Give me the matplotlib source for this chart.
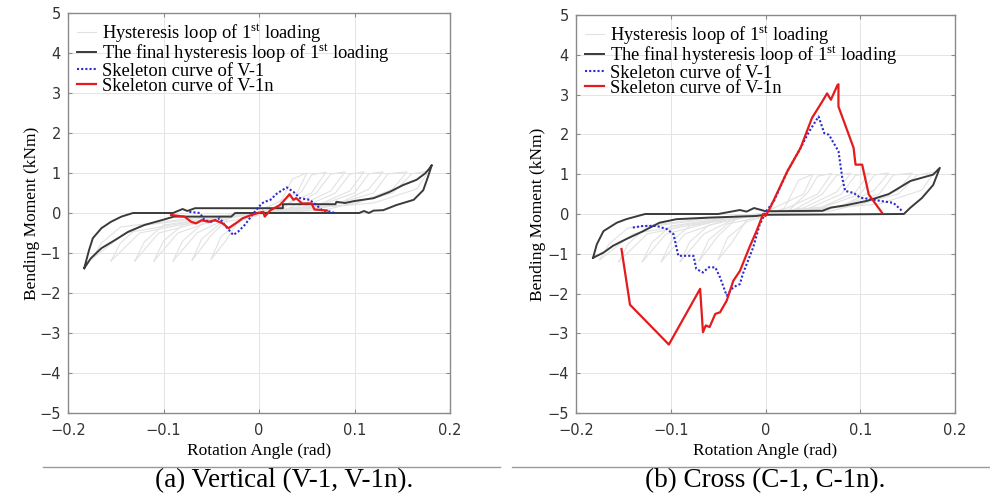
import numpy as np
import matplotlib
matplotlib.use("Agg")
import matplotlib.pyplot as plt
from matplotlib.lines import Line2D

# =====================================================
# DATA
# =====================================================

# light grey hysteresis loops of the 1st loading (same in both panels)
GREY_X = [
    [-0.05, -0.04, -0.02, 0.0, 0.02, 0.035, 0.05, 0.04, 0.0, -0.02, -0.035, -0.05],
    [-0.07, -0.06, -0.04, 0.0, 0.025, 0.045, 0.055, 0.07, 0.055, 0.02, -0.03, -0.05, -0.07],
    [-0.09, -0.08, -0.06, -0.02, 0.03, 0.06, 0.075, 0.09, 0.075, 0.04, -0.03, -0.065, -0.09],
    [-0.11, -0.10, -0.08, -0.03, 0.04, 0.08, 0.095, 0.11, 0.095, 0.06, -0.03, -0.085, -0.11],
    [-0.13, -0.12, -0.10, -0.04, 0.05, 0.10, 0.115, 0.13, 0.115, 0.08, -0.03, -0.105, -0.13],
    [-0.155, -0.145, -0.125, -0.05, 0.06, 0.12, 0.135, 0.155, 0.14, 0.10, -0.03, -0.125, -0.155],
    [-0.175, -0.165, -0.145, -0.06, 0.07, 0.14, 0.16, 0.178, 0.165, 0.12, -0.03, -0.14, -0.175],
]
GREY_Y = [
    [-1.15, -0.6, -0.2, -0.05, 0.15, 0.85, 1.0, 0.5, 0.05, -0.15, -0.7, -1.15],
    [-1.18, -0.65, -0.25, -0.05, 0.1, 0.55, 0.95, 1.02, 0.5, 0.12, -0.1, -0.55, -1.18],
    [-1.2, -0.7, -0.28, -0.08, 0.1, 0.5, 0.97, 1.03, 0.55, 0.15, -0.1, -0.5, -1.2],
    [-1.2, -0.7, -0.3, -0.1, 0.08, 0.5, 0.97, 1.03, 0.55, 0.18, -0.05, -0.5, -1.2],
    [-1.2, -0.72, -0.3, -0.1, 0.08, 0.5, 0.98, 1.03, 0.6, 0.2, -0.05, -0.5, -1.2],
    [-1.2, -0.75, -0.32, -0.1, 0.08, 0.5, 0.98, 1.03, 0.6, 0.22, -0.05, -0.5, -1.2],
    [-1.15, -0.75, -0.35, -0.1, 0.08, 0.5, 0.98, 1.05, 0.6, 0.25, -0.05, -0.5, -1.15],
]

# (a) vertical: final hysteresis loop
V_FINAL_X = [-0.183, -0.176, -0.165, -0.151, -0.137, -0.12, -0.102, -0.089, -0.029, -0.025,
             0.105, 0.11, 0.115, 0.12, 0.13, 0.144, 0.162, 0.172, 0.177, 0.181,
             0.178, 0.174, 0.165, 0.151, 0.137, 0.12, 0.10, 0.09, 0.081, 0.08,
             0.025, 0.025, -0.067, -0.075, -0.08, -0.09, -0.132, -0.144, -0.155,
             -0.165, -0.174, -0.178, -0.183]
V_FINAL_Y = [-1.38, -1.13, -0.88, -0.68, -0.47, -0.3, -0.18, -0.09, -0.09, 0.0,
             0.0, 0.05, 0.0, 0.06, 0.07, 0.2, 0.33, 0.57, 0.91, 1.2,
             1.1, 0.99, 0.83, 0.7, 0.53, 0.37, 0.3, 0.25, 0.28, 0.22,
             0.22, 0.12, 0.12, 0.05, 0.1, 0.0, 0.0, -0.09, -0.22,
             -0.38, -0.63, -0.93, -1.38]

# (a) skeleton curve of V-1
V1_X = [-0.073, -0.062, -0.057, -0.05, -0.041, -0.036, -0.027, -0.022, -0.015, -0.0045,
        0.003, 0.006, 0.012, 0.019, 0.029, 0.036, 0.043, 0.053, 0.06, 0.066, 0.076, 0.079]
V1_Y = [0.03, 0.0, -0.18, -0.22, -0.13, -0.3, -0.55, -0.47, -0.3, 0.03,
        0.24, 0.28, 0.33, 0.49, 0.64, 0.53, 0.37, 0.33, 0.2, 0.07, 0.03, 0.0]

# (a) skeleton curve of V-1n
V1N_X = [-0.092, -0.078, -0.071, -0.066, -0.06, -0.053, -0.046, -0.038, -0.032, -0.027,
         -0.022, -0.017, -0.008, -0.001, 0.0045, 0.006, 0.012, 0.022, 0.027, 0.032,
         0.036, 0.039, 0.045, 0.055, 0.058, 0.071]
V1N_Y = [-0.05, -0.09, -0.22, -0.26, -0.18, -0.22, -0.18, -0.26, -0.38, -0.3,
         -0.22, -0.13, -0.05, 0.0, 0.03, -0.09, 0.07, 0.2, 0.33, 0.47,
         0.33, 0.37, 0.24, 0.24, 0.09, 0.06]

# (b) cross: final hysteresis loop
C_FINAL_X = [-0.182, -0.171, -0.161, -0.147, -0.129, -0.112, -0.094, -0.059, -0.01, 0.0,
             0.146, 0.153, 0.165, 0.177, 0.184,
             0.177, 0.153, 0.13, 0.107, 0.085, 0.069, 0.06, 0.0, -0.012, -0.02,
             -0.027, -0.05, -0.127, -0.147, -0.157, -0.171, -0.178, -0.182]
C_FINAL_Y = [-1.1, -0.97, -0.8, -0.63, -0.43, -0.22, -0.13, -0.09, -0.05, -0.02,
             0.0, 0.16, 0.4, 0.73, 1.16,
             0.99, 0.83, 0.5, 0.33, 0.22, 0.16, 0.08, 0.07, 0.15, 0.06,
             0.1, 0.0, 0.0, -0.13, -0.22, -0.43, -0.76, -1.1]

# (b) skeleton curve of C-1 (legend says V-1)
C1_X = [-0.14, -0.129, -0.115, -0.104, -0.097, -0.094, -0.092, -0.087, -0.076, -0.073,
        -0.066, -0.06, -0.053, -0.048, -0.041, -0.034, -0.027, -0.024, -0.013, -0.006,
        0.001, 0.009, 0.023, 0.035, 0.046, 0.056, 0.062, 0.067, 0.072, 0.077,
        0.081, 0.084, 0.093, 0.10, 0.111, 0.121, 0.135, 0.144]
C1_Y = [-0.34, -0.3, -0.3, -0.38, -0.51, -0.84, -1.05, -1.05, -1.05, -1.38,
        -1.47, -1.34, -1.34, -1.59, -2.05, -1.84, -1.76, -1.51, -0.84, -0.26,
        0.08, 0.33, 1.07, 1.57, 2.07, 2.45, 2.03, 1.99, 1.78, 1.58,
        0.91, 0.58, 0.53, 0.41, 0.37, 0.33, 0.28, 0.08]

# (b) skeleton curve of C-1n (legend says V-1n)
C1N_X = [-0.152, -0.143, -0.102, -0.069, -0.066, -0.063, -0.059, -0.053, -0.048, -0.041,
         -0.034, -0.027, -0.017, -0.0095, -0.0025, 0.0, 0.005, 0.023, 0.037, 0.049,
         0.06, 0.065, 0.069, 0.076, 0.077, 0.077, 0.093, 0.095, 0.102, 0.109, 0.123]
C1N_Y = [-0.88, -2.28, -3.28, -1.88, -2.97, -2.8, -2.84, -2.51, -2.47, -2.18,
         -1.68, -1.43, -0.84, -0.43, 0.0, -0.05, 0.16, 1.07, 1.66, 2.41,
         2.83, 3.03, 2.87, 3.24, 3.26, 2.7, 1.66, 1.24, 1.24, 0.49, 0.03]

XTICKS = [-0.2, -0.1, 0, 0.1, 0.2]
XTICKLABELS = ["\u22120.2", "\u22120.1", "0", "0.1", "0.2"]
YTICKS = [-5, -4, -3, -2, -1, 0, 1, 2, 3, 4, 5]

LABELS = [r"Hysteresis loop of 1$^{\mathrm{st}}$ loading",
          r"The final hysteresis loop of 1$^{\mathrm{st}}$ loading",
          "Skeleton curve of V-1",
          "Skeleton curve of V-1n"]
CAPTIONS = ["(a) Vertical (V-1, V-1n).", "(b) Cross (C-1, C-1n)."]

# =====================================================
# STYLE
# =====================================================

plt.rcParams["mathtext.fontset"] = "custom"
plt.rcParams["mathtext.rm"] = "Liberation Serif"
plt.rcParams["mathtext.it"] = "Liberation Serif:italic"

SERIF = "Liberation Serif"
GREY = "#e2e2e2"
BLACK = "#3a3a3a"
BLUE = "#2b2bd0"
RED = "#e41a1c"

fig = plt.figure(figsize=(9.9, 4.97), dpi=100)

ax_a = fig.add_axes([68 / 990, 84 / 497, 382 / 990, 400 / 497])
ax_b = fig.add_axes([576 / 990, 84 / 497, 379 / 990, 398 / 497])

panels = [
    (ax_a, V_FINAL_X, V_FINAL_Y, V1_X, V1_Y, V1N_X, V1N_Y, (40 - 68) / 382),
    (ax_b, C_FINAL_X, C_FINAL_Y, C1_X, C1_Y, C1N_X, C1N_Y, (546 - 576) / 379),
]

for ax, fx, fy, sx, sy, nx, ny, ylab_x in panels:
    for i in range(len(GREY_X)):
        ax.plot(GREY_X[i], GREY_Y[i], color=GREY, lw=0.8,
                label=LABELS[0] if i == 0 else None, zorder=2)
    ax.plot(fx, fy, color=BLACK, lw=1.4, label=LABELS[1], zorder=3)
    ax.plot(sx, sy, color=BLUE, lw=1.5, ls=(0, (1, 1)), label=LABELS[2], zorder=4)
    ax.plot(nx, ny, color=RED, lw=1.6, label=LABELS[3], zorder=5)

    ax.set_xlim(-0.2, 0.2)
    ax.set_ylim(-5, 5)
    ax.set_xticks(XTICKS)
    ax.set_xticklabels(XTICKLABELS)
    ax.set_yticks(YTICKS)
    ax.grid(True, color="#e4e4e4", lw=0.7)
    ax.set_axisbelow(True)
    for sp in ax.spines.values():
        sp.set_color("#8a8a8a")
        sp.set_linewidth(1.0)
    ax.tick_params(direction="in", length=3, color="#8a8a8a",
                   labelsize=10.5, labelcolor="#333333", top=True, right=True,
                   labeltop=False, labelright=False)
    ax.tick_params(axis="x", pad=7)
    ax.tick_params(axis="y", pad=5)

    ax.set_xlabel("Rotation Angle (rad)", family=SERIF, fontsize=12.5, labelpad=4)
    ax.set_ylabel("Bending Moment (kNm)", family=SERIF, fontsize=12.5)
    ax.yaxis.set_label_coords(ylab_x, 0.5)

    ax.legend(loc="upper left", frameon=False, prop={"family": SERIF, "size": 13.3},
              handlelength=1.0, handletextpad=0.35, labelspacing=-0.1,
              borderaxespad=0.2, borderpad=0.3)

# captions and rules
fig.add_artist(Line2D([43 / 990, 500 / 990], [30 / 497, 30 / 497], color="#9a9a9a", lw=1.0))
fig.add_artist(Line2D([512 / 990, 1.0], [30 / 497, 30 / 497], color="#9a9a9a", lw=1.0))
fig.text(284 / 990, 16 / 497, CAPTIONS[0], family=SERIF, fontsize=19.5,
         ha="center", va="center")
fig.text(765 / 990, 16 / 497, CAPTIONS[1], family=SERIF, fontsize=19.5,
         ha="center", va="center")

fig.savefig("out.png", dpi=100)
